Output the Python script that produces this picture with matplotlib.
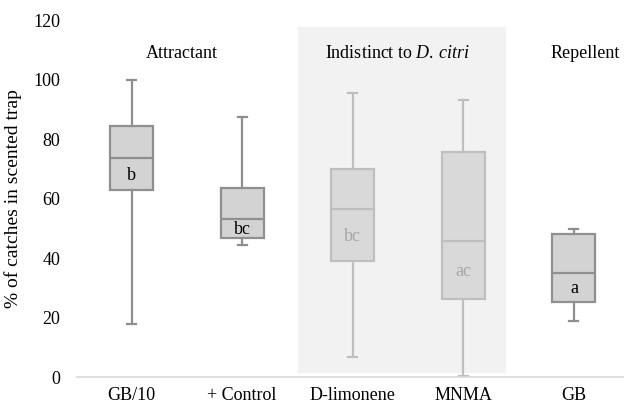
import matplotlib
matplotlib.use("Agg")
import matplotlib.pyplot as plt
from matplotlib.patches import Rectangle

categories = ["GB/10", "+ Control", "D-limonene", "MNMA", "GB"]
whisker_low = [18.0, 44.4, 6.6, 0.3, 18.7]
q1 = [63.0, 46.7, 39.2, 26.1, 25.3]
median = [73.8, 53.2, 56.5, 45.9, 34.9]
q3 = [84.6, 63.7, 70.0, 75.6, 48.0]
whisker_high = [100.0, 87.4, 95.5, 93.1, 49.8]
letters = ["b", "bc", "bc", "ac", "a"]
letter_y = [67.7, 49.5, 47.2, 35.5, 29.9]
indistinct = [False, False, True, True, False]
group_titles = ["Attractant", "Indistinct to ", "Repellent"]
group_x = [0.454, 2.4, 4.1]
group_y = 109
y_ticks = [0, 20, 40, 60, 80, 100, 120]

plt.rcParams["font.family"] = ["Liberation Serif", "DejaVu Serif"]
plt.rcParams["mathtext.fontset"] = "custom"
plt.rcParams["mathtext.rm"] = "Liberation Serif"
plt.rcParams["mathtext.it"] = "Liberation Serif:italic"
FS = 13

fig = plt.figure(figsize=(6.24, 4.03), dpi=100)
ax = fig.add_axes([77 / 624, 26 / 403, 547 / 624, 356.4 / 403])
ax.set_xlim(-0.493, 4.453)
ax.set_ylim(0, 120)

# shaded region
ax.add_patch(Rectangle((1.505, 1.3), 3.39 - 1.505, 117.9 - 1.3,
                       facecolor="#f2f2f2", edgecolor="none", zorder=0))

for i in range(len(categories)):
    st = dict(med=median[i], q1=q1[i], q3=q3[i],
              whislo=whisker_low[i], whishi=whisker_high[i], fliers=[])
    if indistinct[i]:
        fc, ec, tc = "#d9d9d9", "#bfbfbf", "#a6a6a6"
    else:
        fc, ec, tc = "#d3d3d3", "#8f8f8f", "#000000"
    lp = dict(color=ec, linewidth=1.6)
    ax.bxp([st], positions=[i], widths=0.39, capwidths=0.08, patch_artist=True,
           showfliers=False,
           boxprops=dict(facecolor=fc, edgecolor=ec, linewidth=1.6),
           medianprops=lp, whiskerprops=lp, capprops=lp, manage_ticks=False,
           zorder=2)
    ax.text(i, letter_y[i], letters[i], ha="center", va="center",
            fontsize=FS, color=tc, zorder=3)

ax.text(group_x[0], group_y, group_titles[0], ha="center", va="center", fontsize=FS)
ax.text(group_x[1], group_y, group_titles[1] + r"$\mathit{D.\,citri}$", ha="center",
        va="center", fontsize=FS)
ax.text(group_x[2], group_y, group_titles[2], ha="center", va="center", fontsize=FS)

ax.set_xticks(range(len(categories)))
ax.set_xticklabels(categories, fontsize=FS)
ax.set_yticks(y_ticks)
ax.set_yticklabels([str(t) for t in y_ticks], fontsize=FS)
ax.tick_params(axis="both", length=0)
ax.tick_params(axis="y", pad=12)
ax.tick_params(axis="x", pad=7)
for s in ["top", "right", "left"]:
    ax.spines[s].set_visible(False)
ax.spines["bottom"].set_color("#d9d9d9")
ax.spines["bottom"].set_linewidth(1.2)
ax.set_ylabel("% of catches in scented trap", fontsize=14)
ax.yaxis.set_label_coords(-0.1005, 0.5)
ax.patch.set_alpha(0)

fig.savefig("out.png", dpi=100)
